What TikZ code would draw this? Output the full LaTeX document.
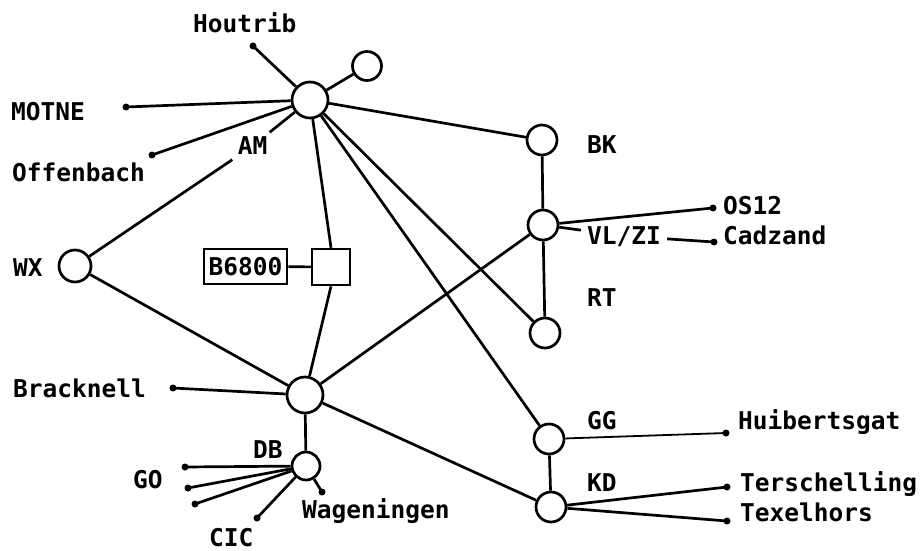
\documentclass[tikz,border=0pt]{standalone}
\usepackage{fontspec}
\newfontfamily\plotfont{DejaVu Sans Mono}
\begin{document}
\begin{tikzpicture}[x=1pt,y=-1pt,
  link/.style={line width=2.7pt},
  thinlink/.style={line width=1.8pt},
  stn/.style={circle,draw,line width=2.7pt,fill=white,inner sep=0pt},
  bigstn/.style={stn,minimum size=36pt},
  smallstn/.style={stn,minimum size=30pt},
  dot/.style={circle,fill=black,inner sep=0pt,minimum size=7pt},
  lbl/.style={font=\plotfont\bfseries\fontsize{24.5}{28}\selectfont,inner sep=0pt,
              text height=17pt,text depth=0pt,anchor=west},
  gaplbl/.style={lbl,anchor=center,inner xsep=6pt,inner ysep=5pt}]
\useasboundingbox (0,0) rectangle (923,551);

% switching centres
\node[bigstn] (am) at (310,100) {};
\node[stn,minimum size=29pt] (spare) at (367,66) {};
\node[stn,minimum size=32pt] (wx) at (75,266) {};
\node[bigstn] (brk) at (305,395) {};
\node[stn,minimum size=28pt] (db) at (306,466) {};
\node[smallstn] (bk) at (542,140) {};
\node[smallstn] (vlzi) at (543,225) {};
\node[smallstn] (rt) at (545,333) {};
\node[smallstn] (gg) at (549,439) {};
\node[smallstn] (kd) at (551,507) {};

% computer and its processor
\node[draw,line width=2.5pt,minimum width=38pt,minimum height=36pt,inner sep=0pt] (cpu) at (331,267) {};
\node[draw,line width=2.8pt,minimum width=83pt,minimum height=35pt,inner sep=0pt,
      font=\plotfont\bfseries\fontsize{24.5}{28}\selectfont] (b6800) at (245.5,266.5) {B6800};

% outstation end points
\node[dot] (houtrib) at (253,46) {};
\node[dot] (motne) at (126,107) {};
\node[dot] (offenbach) at (152,155) {};
\node[dot] (bracknell) at (173,388) {};
\node[dot] (go1) at (185,467) {};
\node[dot] (go2) at (188,488) {};
\node[dot] (go3) at (195,504) {};
\node[dot] (cic) at (257,518) {};
\node[dot] (wageningen) at (322,492) {};
\node[dot] (os12) at (713,208) {};
\node[dot] (cadzand) at (714,242) {};
\node[dot] (huibertsgat) at (726,433) {};
\node[dot] (terschelling) at (727,487) {};
\node[dot] (texelhors) at (727,521) {};

% labels that interrupt a line
\node[gaplbl] (lam) at (252.5,146) {AM};
\node[gaplbl] (lvlzi) at (624,236) {VL/ZI};

% connections
\draw[link] (am) -- (houtrib.center);
\draw[link] (am) -- (spare);
\draw[link] (am) -- (motne.center);
\draw[link] (am) -- (offenbach.center);
\draw[link] (am) -- (lam);
\draw[link] (lam) -- (wx);
\draw[link] (am) -- (cpu.north);
\draw[link] (am) -- (bk);
\draw[link] (am) -- (rt);
\draw[link] (am) -- (gg);
\draw[link] (b6800) -- (cpu);
\draw[link] (cpu.south) -- (brk);
\draw[link] (wx) -- (brk);
\draw[link] (brk) -- (bracknell.center);
\draw[link] (brk) -- (vlzi);
\draw[link] (brk) -- (kd);
\draw[link] (brk) -- (db);
\draw[link] (db) -- (go1.center);
\draw[link] (db) -- (go2.center);
\draw[link] (db) -- (go3.center);
\draw[link] (db) -- (cic.center);
\draw[link] (db) -- (wageningen.center);
\draw[link] (bk) -- (vlzi);
\draw[link] (vlzi) -- (rt);
\draw[link] (vlzi) -- (os12.center);
\draw[link] (vlzi) -- (lvlzi);
\draw[link] (lvlzi) -- (cadzand.center);
\draw[link] (gg) -- (kd);
\draw[thinlink] (gg) -- (huibertsgat.center);
\draw[link] (kd) -- (terschelling.center);
\draw[link] (kd) -- (texelhors.center);

% names
\node[lbl] (tHoutrib) at (193,24) {Houtrib};
\node[lbl] (tMotne) at (11,112) {MOTNE};
\node[lbl] (tOffenbach) at (12,173) {Offenbach};
\node[lbl] (tWx) at (13,268) {WX};
\node[lbl] (tBracknell) at (13,389) {Bracknell};
\node[lbl] (tDb) at (253,450) {DB};
\node[lbl] (tGo) at (133,480) {GO};
\node[lbl] (tCic) at (209,538) {CIC};
\node[lbl] (tWageningen) at (302,510) {Wageningen};
\node[lbl] (tBk) at (587,145) {BK};
\node[lbl] (tOs12) at (723,206) {OS12};
\node[lbl] (tCadzand) at (723,236) {Cadzand};
\node[lbl] (tRt) at (587,298) {RT};
\node[lbl] (tGg) at (587,421) {GG};
\node[lbl] (tHuibertsgat) at (738,421) {Huibertsgat};
\node[lbl] (tKd) at (587,483) {KD};
\node[lbl] (tTerschelling) at (740,483) {Terschelling};
\node[lbl] (tTexelhors) at (740,513) {Texelhors};
\end{tikzpicture}
\end{document}
